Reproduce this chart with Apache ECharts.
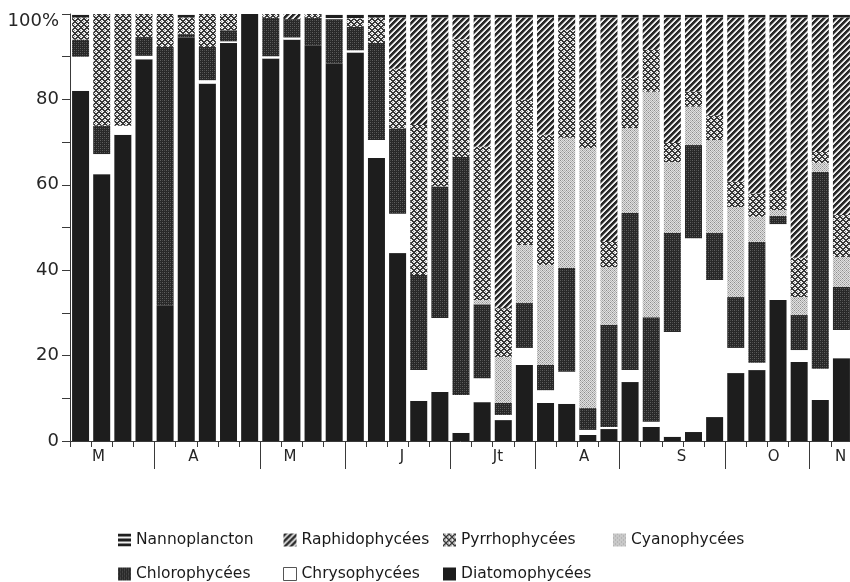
<!DOCTYPE html>
<html>
<head>
<meta charset="utf-8">
<script src="https://cdn.jsdelivr.net/npm/echarts@6/dist/echarts.min.js"></script>
<style>
  html, body { margin: 0; padding: 0; background: #ffffff; }
  #chart { width: 850px; height: 582px; }
</style>
</head>
<body>
<div id="chart"></div>
<script>
// One bar per sample, grouped by month of sampling
const samples = ['1','2','3','4','5','6','7','8','9','10','11','12','13','14','15','16','17','18','19',
                 '20','21','22','23','24','25','26','27','28','29','30','31','32','33','34','35','36','37'];
const months = ['M', 'A', 'M', 'J', 'Jt', 'A', 'S', 'O', 'N'];
const samplesPerMonth = [4, 5, 4, 5, 4, 4, 5, 4, 2];

const yTicks = [0, 20, 40, 60, 80, 100];
const yTickLabels = ['0', '20', '40', '60', '80', '100%'];

// Percentage of each algal group in each sample (stacked bottom to top)
const diatomophycees = [82, 62.5, 71.7, 89.4, 31.8, 94.5, 83.7, 93.2, 100, 89.6, 94, 92.7, 88.4, 91, 66.3, 44, 9.4, 11.5, 1.9,
                        9.1, 4.9, 17.8, 8.9, 8.7, 1.4, 2.8, 13.8, 3.3, 1, 2.1, 5.6, 15.9, 16.6, 33, 18.5, 9.6, 19.4];
const chrysophycees = [8, 4.7, 2.1, 0.8, 0, 0, 0.8, 0.4, 0, 0.5, 0.5, 0, 0, 0.5, 4.2, 9.2, 7.2, 17.3, 8.9,
                       5.6, 1.2, 4, 3, 7.5, 1.2, 0.5, 2.8, 1.2, 24.5, 45.4, 32.1, 5.9, 1.7, 17.8, 2.8, 7.3, 6.6];
const chlorophycees = [4, 6.6, 0, 4.4, 60.5, 0.8, 7.8, 2.6, 0, 9, 4.3, 6.4, 10.4, 5.5, 22.7, 20, 22.3, 30.8, 55.7,
                       17.3, 2.8, 10.5, 5.9, 24.3, 5.1, 23.9, 36.8, 24.5, 23.2, 21.8, 11, 11.9, 28.3, 1.9, 8.2, 46.1, 10.1];
const cyanophycees = [0, 0, 0, 0, 0, 0, 0, 0, 0, 0, 0, 0, 0, 0, 0, 0, 0, 0, 0,
                      1, 10.8, 13.6, 23.4, 30.5, 60.9, 13.5, 19.9, 52.8, 16.6, 9, 21.8, 21.1, 5.9, 1.4, 4.2, 2.1, 7];
const pyrrhophycees = [5.2, 26.2, 26.2, 5.4, 7.7, 3.9, 7.7, 3.8, 0, 0.9, 0, 0.9, 0, 2, 6, 14, 35.1, 20.3, 27.6,
                       35.9, 11.4, 34, 30.5, 25.3, 6.6, 5.9, 11.7, 9.8, 4.5, 3.5, 5.8, 5.9, 5.5, 4.7, 9.2, 2.6, 9.8];
const raphidophycees = [0, 0, 0, 0, 0, 0, 0, 0, 0, 0, 1.2, 0, 0, 0, 0, 12, 25.2, 19.3, 5.1,
                        30.3, 68.1, 19.3, 27.5, 2.9, 24, 52.6, 14.2, 7.6, 29.4, 17.4, 22.9, 38.5, 41.2, 40.4, 56.3, 31.5, 46.3];
const nannoplancton = [0.8, 0, 0, 0, 0, 0.8, 0, 0, 0, 0, 0, 0, 1.2, 1, 0.8, 0.8, 0.8, 0.8, 0.8,
                       0.8, 0.8, 0.8, 0.8, 0.8, 0.8, 0.8, 0.8, 0.8, 0.8, 0.8, 0.8, 0.8, 0.8, 0.8, 0.8, 0.8, 0.8];

// ---- layout / style ----
const FONT = 'DejaVu Sans';
const INK = '#262626';
// where each month name sits along the sample axis (in bar widths from the left edge)
const monthLabelAt = [1.35, 5.84, 10.41, 15.71, 20.25, 24.32, 28.93, 33.29, 36.46];

// month boundaries (in bars) for the long separator ticks
const monthBounds = [];
let acc = 0;
for (let i = 0; i < samplesPerMonth.length - 1; i++) { acc += samplesPerMonth[i]; monthBounds.push(acc); }

// Small grey-level tiles used as hatch fills
function tile(w, h, shade) {
  const c = document.createElement('canvas');
  c.width = w; c.height = h;
  const ctx = c.getContext('2d');
  const img = ctx.createImageData(w, h);
  for (let y = 0; y < h; y++) {
    for (let x = 0; x < w; x++) {
      const g = shade(x, y);
      const i = (y * w + x) * 4;
      img.data[i] = img.data[i + 1] = img.data[i + 2] = g;
      img.data[i + 3] = 255;
    }
  }
  ctx.putImageData(img, 0, 0);
  return { image: c, repeat: 'repeat' };
}

const fills = {
  nanno: tile(1, 5, (x, y) => (y % 5 < 3 ? 30 : 240)),
  raphido: tile(6, 6, (x, y) => {
    const u = (x + y) % 6;
    return u < 3 ? 40 : (u === 3 ? 130 : 236);
  }),
  pyrrho: tile(6, 6, (x, y) => {
    const u = (x + y) % 6, v = (x - y + 6) % 6;
    if (u === 0 || u === 5 || v === 0 || v === 5) return 55;
    if (u === 2 && v === 2) return 140;
    return 238;
  }),
  cyano: tile(4, 4, (x, y) => {
    if ((x + y) % 2 === 1) return 224;
    return (x % 4 === 0 && y % 4 === 0) || (x % 4 === 2 && y % 4 === 2) ? 140 : 178;
  }),
  chloro: tile(4, 4, (x, y) => (x % 2 === 0 && y % 2 === 0) ? ((x + y) % 4 === 0 ? 96 : 72) : 40),
  chryso: '#ffffff',
  diatom: '#1d1d1d'
};

const groups = [
  { name: 'Diatomophycées', data: diatomophycees, color: fills.diatom },
  { name: 'Chrysophycées', data: chrysophycees, color: fills.chryso },
  { name: 'Chlorophycées', data: chlorophycees, color: fills.chloro },
  { name: 'Cyanophycées', data: cyanophycees, color: fills.cyano },
  { name: 'Pyrrhophycées', data: pyrrhophycees, color: fills.pyrrho },
  { name: 'Raphidophycées', data: raphidophycees, color: fills.raphido },
  { name: 'Nannoplancton', data: nannoplancton, color: fills.nanno }
];

const series = groups.map(g => ({
  type: 'bar',
  name: g.name,
  stack: 'total',
  barWidth: 17,
  data: g.data.map(v => (v === 0 ? '-' : v)),
  itemStyle: { color: g.color },
  emphasis: { disabled: true },
  silent: true
}));

const legendColumns = [
  { left: 118, names: ['Nannoplancton', 'Chlorophycées'] },
  { left: 283, names: ['Raphidophycées', 'Chrysophycées'] },
  { left: 443, names: ['Pyrrhophycées', 'Diatomophycées'] },
  { left: 613, names: ['Cyanophycées'] }
];

const legend = legendColumns.map(col => ({
  left: col.left,
  top: 532,
  orient: 'vertical',
  padding: 0,
  itemGap: 18,
  itemWidth: 13,
  itemHeight: 13,
  icon: 'rect',
  selectedMode: false,
  data: col.names.map(n => n === 'Chrysophycées'
    ? { name: n, itemStyle: { borderColor: '#555555', borderWidth: 1 } }
    : { name: n }),
  textStyle: { fontFamily: FONT, fontSize: 15.5, color: '#1a1a1a', lineHeight: 16 }
}));

const axisLine = { color: '#3a3a3a', width: 1 };

const option = {
  animation: false,
  backgroundColor: '#ffffff',
  grid: { left: 70, top: 14, width: 782, height: 427, outerBoundsMode: 'none' },
  legend: legend,
  xAxis: [
    {
      type: 'category',
      data: samples,
      position: 'bottom',
      axisLine: { show: true, onZero: false, lineStyle: axisLine },
      axisTick: { show: true, interval: 0, length: 6, lineStyle: axisLine },
      axisLabel: { show: false },
      splitLine: { show: false }
    },
    {
      type: 'value',
      min: 0,
      max: samples.length,
      position: 'bottom',
      axisLine: { show: false },
      splitLine: { show: false },
      axisTick: { show: true, length: 28, customValues: monthBounds, lineStyle: axisLine },
      axisLabel: {
        show: true,
        customValues: monthLabelAt,
        formatter: v => months[monthLabelAt.indexOf(v)] || '',
        margin: 9,
        fontFamily: FONT,
        fontSize: 15,
        color: INK
      }
    }
  ],
  yAxis: {
    type: 'value',
    min: 0,
    max: 100,
    interval: 10,
    axisLine: { show: true, lineStyle: axisLine },
    axisTick: { show: true, length: 8, lineStyle: axisLine },
    splitLine: { show: false },
    axisLabel: {
      margin: 11,
      fontFamily: FONT,
      fontSize: 18,
      color: INK,
      formatter: v => {
        const k = yTicks.indexOf(v);
        if (k < 0) return '';
        return v === 100 ? '{top|' + yTickLabels[k] + '}' : yTickLabels[k];
      },
      rich: { top: { fontFamily: FONT, fontSize: 18, color: INK, padding: [14, 0, 0, 0] } }
    }
  },
  series: series
};

const chart = echarts.init(document.getElementById('chart'), null, { renderer: 'canvas' });
chart.setOption(option);
</script>
</body>
</html>
